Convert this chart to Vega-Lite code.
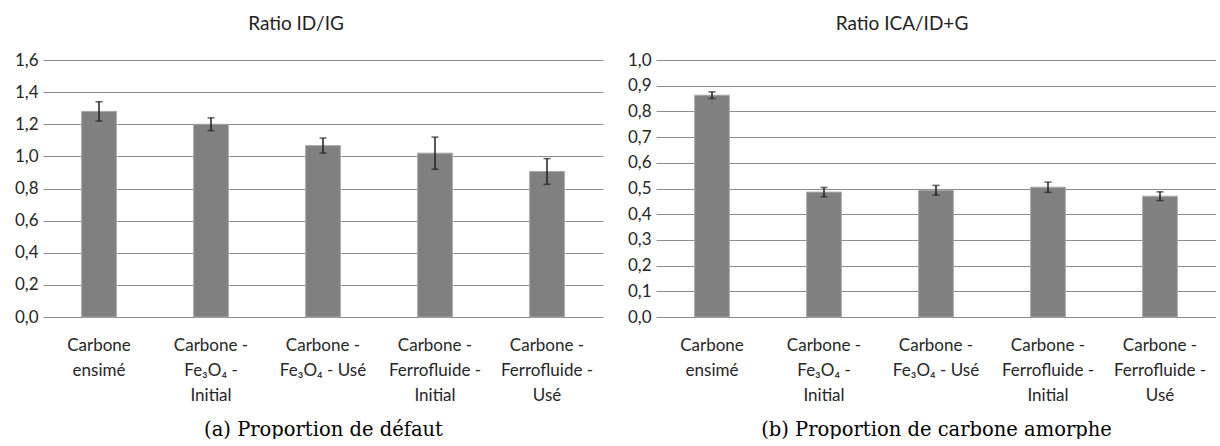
{
  "$schema": "https://vega.github.io/schema/vega-lite/v6.json",
  "padding": {"left": 13, "top": 15, "right": 0, "bottom": 0},
  "background": "white",
  "datasets": {
    "defaut": [
      {"cat": "Carbone|ensimé", "v": 1.28, "err": 0.06},
      {"cat": "Carbone -|Fe₃O₄ -|Initial", "v": 1.20, "err": 0.04},
      {"cat": "Carbone -|Fe₃O₄ - Usé", "v": 1.067, "err": 0.047},
      {"cat": "Carbone -|Ferrofluide -|Initial", "v": 1.02, "err": 0.10},
      {"cat": "Carbone -|Ferrofluide -|Usé", "v": 0.906, "err": 0.08}
    ],
    "amorphe": [
      {"cat": "Carbone|ensimé", "v": 0.863, "err": 0.013},
      {"cat": "Carbone -|Fe₃O₄ -|Initial", "v": 0.486, "err": 0.018},
      {"cat": "Carbone -|Fe₃O₄ - Usé", "v": 0.493, "err": 0.019},
      {"cat": "Carbone -|Ferrofluide -|Initial", "v": 0.505, "err": 0.02},
      {"cat": "Carbone -|Ferrofluide -|Usé", "v": 0.470, "err": 0.017}
    ]
  },
  "config": {
    "view": {"stroke": null},
    "font": "Lato",
    "concat": {"spacing": 23},
    "title": {"font": "Lato", "fontSize": 19, "fontWeight": "normal", "color": "#222222", "anchor": "middle", "frame": "group", "offset": 17},
    "axisX": {
      "labelAngle": 0, "domain": false, "ticks": false, "grid": false,
      "labelFont": "Lato", "labelFontSize": 17, "labelColor": "#262626",
      "labelPadding": 20, "labelLineHeight": 25, "labelBaseline": "top",
      "labelOverlap": false, "labelLimit": 200,
      "labelExpr": "split(datum.label, '|')",
      "titleFont": "DejaVu Serif", "titleFontSize": 19.5, "titleFontWeight": "normal",
      "titleColor": "#000000", "titlePadding": 17
    },
    "axisY": {
      "domain": false, "ticks": false, "grid": true,
      "gridColor": "#8c8c8c", "gridWidth": 1,
      "labelFont": "Lato", "labelFontSize": 17, "labelColor": "#262626",
      "labelPadding": 5, "labelOverlap": false, "labelBound": false, "labelFlush": false,
      "labelLimit": 100, "minExtent": 30,
      "labelExpr": "replace(format(datum.value, '.1f'), '.', ',')"
    }
  },
  "hconcat": [
    {
      "width": 560,
      "height": 257,
      "title": {"text": "Ratio ID/IG", "dx": -27},
      "data": {"name": "defaut"},
      "encoding": {
        "x": {
          "field": "cat", "type": "nominal", "sort": null,
          "scale": {"paddingInner": 0.69, "paddingOuter": 0.345},
          "axis": {"title": "(a) Proportion de défaut"}
        },
        "y": {
          "field": "v", "type": "quantitative",
          "scale": {"domain": [0, 1.6], "nice": false},
          "axis": {"title": null, "values": [0, 0.2, 0.4, 0.6, 0.8, 1.0, 1.2, 1.4, 1.6]}
        }
      },
      "layer": [
        {
          "mark": {"type": "bar", "color": "#808080", "stroke": "#a8a8a8", "strokeWidth": 1}
        },
        {
          "mark": {"type": "errorbar", "ticks": true, "size": 7, "thickness": 1.5, "color": "#1f1f1f"},
          "encoding": {
            "yError": {"field": "err"}
          }
        }
      ]
    },
    {
      "width": 560,
      "height": 257,
      "title": {"text": "Ratio ICA/ID+G", "dx": -34},
      "data": {"name": "amorphe"},
      "encoding": {
        "x": {
          "field": "cat", "type": "nominal", "sort": null,
          "scale": {"paddingInner": 0.69, "paddingOuter": 0.345},
          "axis": {"title": "(b) Proportion de carbone amorphe"}
        },
        "y": {
          "field": "v", "type": "quantitative",
          "scale": {"domain": [0, 1.0], "nice": false},
          "axis": {"title": null, "values": [0, 0.1, 0.2, 0.3, 0.4, 0.5, 0.6, 0.7, 0.8, 0.9, 1.0]}
        }
      },
      "layer": [
        {
          "mark": {"type": "bar", "color": "#808080", "stroke": "#a8a8a8", "strokeWidth": 1}
        },
        {
          "mark": {"type": "errorbar", "ticks": true, "size": 7, "thickness": 1.5, "color": "#1f1f1f"},
          "encoding": {
            "yError": {"field": "err"}
          }
        }
      ]
    }
  ]
}
